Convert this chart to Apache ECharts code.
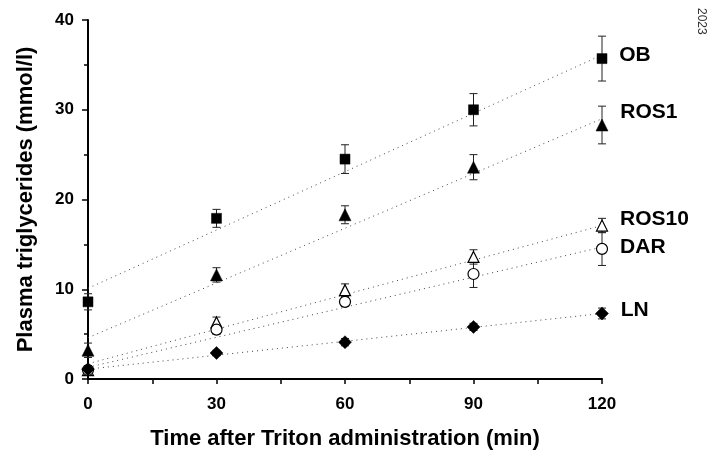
<!DOCTYPE html>
<html>
<head>
<meta charset="utf-8">
<script src="https://cdn.jsdelivr.net/npm/echarts@6/dist/echarts.min.js"></script>
<style>html,body{margin:0;padding:0;background:#fff;}#c{width:708px;height:455px;}</style>
</head>
<body>
<div id="c"></div>
<script>
const times = [0, 30, 60, 90, 120];
const groupNames = ['OB', 'ROS1', 'ROS10', 'DAR', 'LN'];
const obMean = [8.6, 17.9, 24.5, 30.0, 35.7];
const obErr = [0.9, 1.0, 1.6, 1.8, 2.5];
const ros1Mean = [3.2, 11.6, 18.3, 23.6, 28.3];
const ros1Err = [0.8, 0.8, 1.0, 1.4, 2.1];
const ros10Mean = [1.0, 6.3, 9.9, 13.6, 17.1];
const ros10Err = [0.5, 0.6, 0.7, 0.8, 0.8];
const darMean = [1.0, 5.5, 8.6, 11.7, 14.5];
const darErr = [0.4, 0.5, 0.5, 1.5, 1.85];
const lnMean = [1.1, 2.9, 4.1, 5.8, 7.3];
const lnErr = [0.3, 0.3, 0.4, 0.4, 0.6];
// regression line values at t=0 and t=120
const fitTimes = [0, 120];
const obFit = [10.1, 36.1];
const ros1Fit = [4.6, 29.0];
const ros10Fit = [1.7, 17.1];
const darFit = [1.3, 14.7];
const lnFit = [1.1, 7.3];
const xTicks = [0, 30, 60, 90, 120];
const yTicks = [0, 10, 20, 30, 40];
const sideNote = '2023';

const FONT = '"Liberation Sans", Arial, sans-serif';
const groups = [
  {name: groupNames[0], mean: obMean, err: obErr, fit: obFit, symbol: 'rect', size: 10, fill: '#000', off: [0, -3]},
  {name: groupNames[1], mean: ros1Mean, err: ros1Err, fit: ros1Fit, symbol: 'triangle', size: 12, fill: '#000', off: [0, -13]},
  {name: groupNames[2], mean: ros10Mean, err: ros10Err, fit: ros10Fit, symbol: 'triangle', size: 11, fill: '#fff', off: [0, -6]},
  {name: groupNames[3], mean: darMean, err: darErr, fit: darFit, symbol: 'circle', size: 11, fill: '#fff', off: [0, -2]},
  {name: groupNames[4], mean: lnMean, err: lnErr, fit: lnFit, symbol: 'diamond', size: [13, 13], fill: '#000', off: [0, -3]}
];

const series = [];
groups.forEach(g => {
  series.push({
    type: 'line', silent: true, symbol: 'none', z: 1,
    data: fitTimes.map((t, i) => [t, g.fit[i]]),
    lineStyle: {color: '#444', width: 1, type: [1, 4]}
  });
});
groups.forEach(g => {
  series.push({
    type: 'custom', z: 2, silent: true,
    data: times.map((t, i) => [t, g.mean[i] - g.err[i], g.mean[i] + g.err[i]]),
    renderItem: function (params, api) {
      const lo = api.coord([api.value(0), api.value(1)]);
      const hi = api.coord([api.value(0), api.value(2)]);
      const w = 4;
      const st = {stroke: '#222', lineWidth: 1};
      return {type: 'group', children: [
        {type: 'line', shape: {x1: lo[0], y1: lo[1], x2: hi[0], y2: hi[1]}, style: st},
        {type: 'line', shape: {x1: lo[0] - w, y1: lo[1], x2: lo[0] + w, y2: lo[1]}, style: st},
        {type: 'line', shape: {x1: hi[0] - w, y1: hi[1], x2: hi[0] + w, y2: hi[1]}, style: st}
      ]};
    }
  });
});
groups.forEach(g => {
  series.push({
    type: 'scatter', z: 3, symbol: g.symbol, symbolSize: g.size,
    itemStyle: {color: g.fill, opacity: 1, borderColor: '#000', borderWidth: g.fill === '#fff' ? 1.2 : 0.5},
    data: times.map((t, i) => {
      const d = {value: [t, g.mean[i]]};
      if (i === times.length - 1) {
        d.label = {show: true, position: 'right', distance: 12, offset: g.off, formatter: g.name,
          color: '#000', fontFamily: FONT, fontWeight: 'bold', fontSize: 21};
      }
      return d;
    })
  });
});

const chart = echarts.init(document.getElementById('c'), null, {renderer: 'canvas'});
chart.setOption({
  animation: false,
  backgroundColor: '#fff',
  grid: {left: 88, right: 106, top: 20, bottom: 76},
  xAxis: {
    type: 'value', min: xTicks[0], max: xTicks[xTicks.length - 1], interval: 30,
    name: 'Time after Triton administration (min)', nameLocation: 'middle', nameGap: 49,
    nameTextStyle: {fontFamily: FONT, fontWeight: 'bold', fontSize: 22, color: '#000'},
    axisLine: {lineStyle: {color: '#000', width: 2}},
    axisTick: {show: true, length: 5, lineStyle: {color: '#000', width: 1.5}},
    minorTick: {show: true, splitNumber: 2, length: 5, lineStyle: {color: '#000', width: 1.5}},
    splitLine: {show: false},
    axisLabel: {fontFamily: FONT, fontWeight: 'bold', fontSize: 17, color: '#000', margin: 17}
  },
  yAxis: {
    type: 'value', min: yTicks[0], max: yTicks[yTicks.length - 1], interval: 10,
    name: 'Plasma triglycerides (mmol/l)', nameLocation: 'middle', nameGap: 51,
    nameTextStyle: {fontFamily: FONT, fontWeight: 'bold', fontSize: 22, color: '#000'},
    axisLine: {lineStyle: {color: '#000', width: 2}},
    axisTick: {show: true, length: 6, lineStyle: {color: '#000', width: 1.5}},
    minorTick: {show: true, splitNumber: 2, length: 4, lineStyle: {color: '#000', width: 1.5}},
    splitLine: {show: false},
    axisLabel: {fontFamily: FONT, fontWeight: 'bold', fontSize: 17, color: '#000', margin: 14}
  },
  graphic: [{
    type: 'text', x: 707, y: 8, rotation: -Math.PI / 2,
    style: {text: sideNote, fontFamily: FONT, fontSize: 12, fill: '#333'}
  }],
  series: series
});
</script>
</body>
</html>
